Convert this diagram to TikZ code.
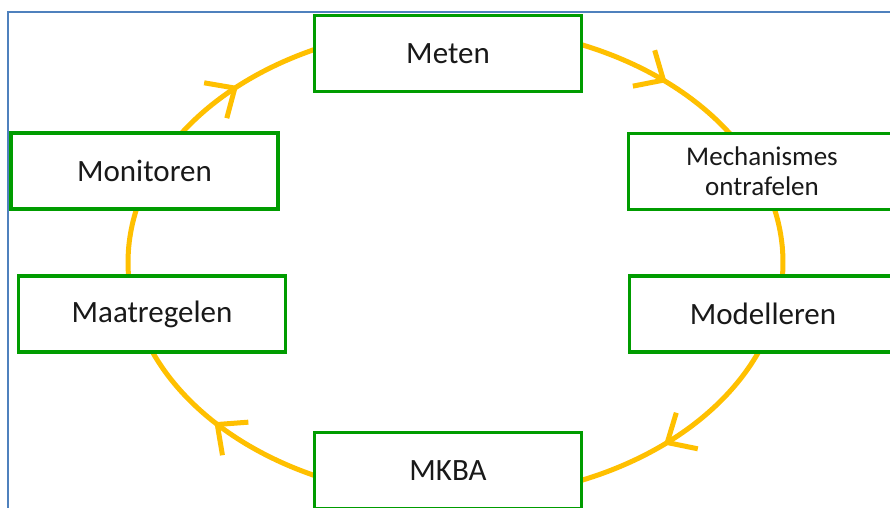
\documentclass[tikz,border=0pt]{standalone}
\usepackage{fontspec}
\setmainfont{Carlito}
\usetikzlibrary{arrows.meta,decorations.markings}
\definecolor{cycgold}{RGB}{255,192,0}
\definecolor{boxgreen}{RGB}{0,156,0}
\definecolor{frameblue}{RGB}{79,129,189}
\begin{document}
\begin{tikzpicture}[x=1pt,y=1pt,
  stepbox/.style={draw=boxgreen, line width=3.5pt, fill=white, minimum width=267pt,
    minimum height=76pt, inner sep=0pt, align=center, text=black!90,
    font=\fontsize{31}{36}\selectfont},
  cyc/.style={draw=cycgold, line width=5pt},
  midarrow/.style={postaction={decorate}, decoration={markings,
    mark=at position #1 with {\arrow[cycgold]{Straight Barb[length=23pt,width=42pt,line width=5pt]}}}}
]
\useasboundingbox (0,0) rectangle (890,507);
\clip (0,0) rectangle (890,507);
\fill[white] (0,0) rectangle (890,507);
\draw[frameblue, line width=1.6pt] (8,-2) -- (8,495) -- (892,495);

\coordinate (O) at (455.5,244.5);
% connectors (ellipse arcs), clockwise
\draw[cyc, midarrow=0.54] (O) ++(68:327.5 and 236) arc[start angle=68, end angle=33, x radius=327.5, y radius=236];
\draw[cyc] (O) ++(13.5:327.5 and 236) arc[start angle=13.5, end angle=-3.5, x radius=327.5, y radius=236];
\draw[cyc, midarrow=0.59] (O) ++(-22:327.5 and 236) arc[start angle=-22, end angle=-68, x radius=327.5, y radius=236];
\draw[cyc, midarrow=0.55] (O) ++(-115:327.5 and 236) arc[start angle=-115, end angle=-158, x radius=327.5, y radius=236];
\draw[cyc] (O) ++(183.5:327.5 and 236) arc[start angle=183.5, end angle=166.5, x radius=327.5, y radius=236];
\draw[cyc, midarrow=0.46] (O) ++(147:327.5 and 236) arc[start angle=147, end angle=115, x radius=327.5, y radius=236];

% boxes
\node[stepbox] (meten) at (448,453.5) {Meten};
\node[stepbox, font=\fontsize{27}{30}\selectfont] (mech) at (762,335.5) {Mechanismes\\ontrafelen};
\node[stepbox] (model) at (763,193) {Modelleren};
\node[stepbox] (mkba) at (448,36.5) {MKBA};
\node[stepbox] (monit) at (144.5,336) {Monitoren};
\node[stepbox] (maatr) at (152,193) {Maatregelen};
\end{tikzpicture}
\end{document}
